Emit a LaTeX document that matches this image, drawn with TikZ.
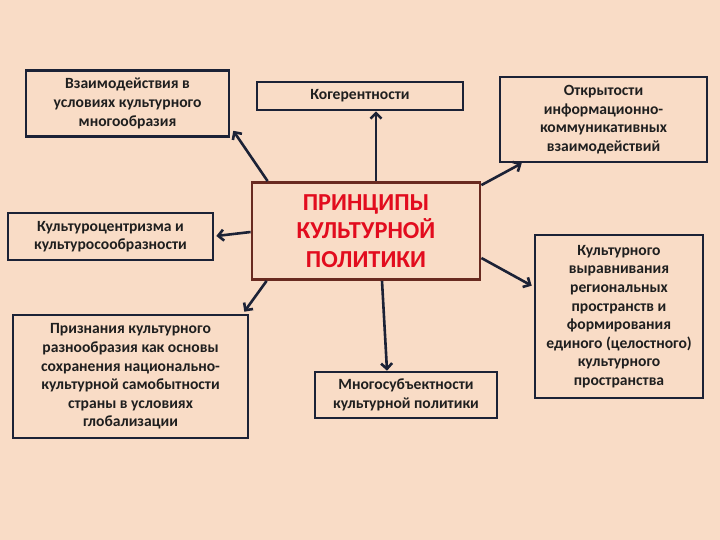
\documentclass[tikz,border=0pt]{standalone}
\usepackage{fontspec}
\setmainfont{Carlito}
\usetikzlibrary{arrows.meta,calc}
\definecolor{bg}{RGB}{249,220,198}
\definecolor{navy}{RGB}{28,34,54}
\definecolor{brn}{RGB}{105,42,32}
\definecolor{redt}{RGB}{226,12,30}
\begin{document}
\begin{tikzpicture}[x=1pt,y=-1pt,
  box/.style={draw=navy,line width=2.6pt,fill=bg,align=center,inner sep=0pt,
    font=\fontsize{15.6}{18.6}\selectfont\bfseries,text=black!88},
  mainbox/.style={draw=brn,line width=2.8pt,fill=bg,align=center,inner sep=0pt,
    font=\fontsize{24.4}{28.6}\selectfont\bfseries,text=redt},
  arr/.style={draw=navy,line width=2.6pt,-{Straight Barb[length=5.5pt,width=11pt]}}]
\fill[bg] (0,0) rectangle (720,540);
\useasboundingbox (0,0) rectangle (720,540);
\node[mainbox,minimum width=228,minimum height=97] (ctr) at (366,231) {ПРИНЦИПЫ\\КУЛЬТУРНОЙ\\ПОЛИТИКИ};
\node[box,minimum width=203,minimum height=66] (A) at (127.5,103.5) {Взаимодействия в\\условиях культурного\\многообразия};
\node[box,minimum width=205,minimum height=47] (B) at (110.5,236.5) {Культуроцентризма и\\культуросообразности};
\node[box,minimum width=206,minimum height=28] (C) at (360,96) {Когерентности};
\node[box,minimum width=207,minimum height=85] (D) at (603.5,119.5) {Открытости\\информационно-\\коммуникативных\\взаимодействий};
\node[box,minimum width=168,minimum height=163] (E) at (619,316.5) {Культурного\\выравнивания\\региональных\\пространств и\\формирования\\единого (целостного)\\культурного\\пространства};
\node[box,minimum width=235,minimum height=123] (F) at (130.5,376.5) {Признания культурного\\разнообразия как основы\\сохранения национально-\\культурной самобытности\\страны в условиях\\глобализации};
\node[box,minimum width=182,minimum height=46] (G) at (406,395) {Многосубъектности\\культурной политики};
\draw[arr] ($(ctr.north west)+(17,0)$) -- ($(A.south east)+(3,-7)$);
\draw[arr] ($(ctr.west)+(0,1)$) -- ($(B.east)+(2,-0.5)$);
\draw[arr] ($(ctr.north)+(10,0)$) -- ($(C.south)+(16,0)$);
\draw[arr] ($(ctr.north east)+(0,4)$) -- ($(D.south west)+(23,0)$);
\draw[arr] ($(ctr.east)+(0,27)$) -- ($(E.north west)+(-2,52)$);
\draw[arr] ($(ctr.south west)+(16,0)$) -- ($(F.north east)+(-5,-2)$);
\draw[arr] ($(ctr.south)+(16,0)$) -- ($(G.north)+(-19,0)$);
\end{tikzpicture}
\end{document}
